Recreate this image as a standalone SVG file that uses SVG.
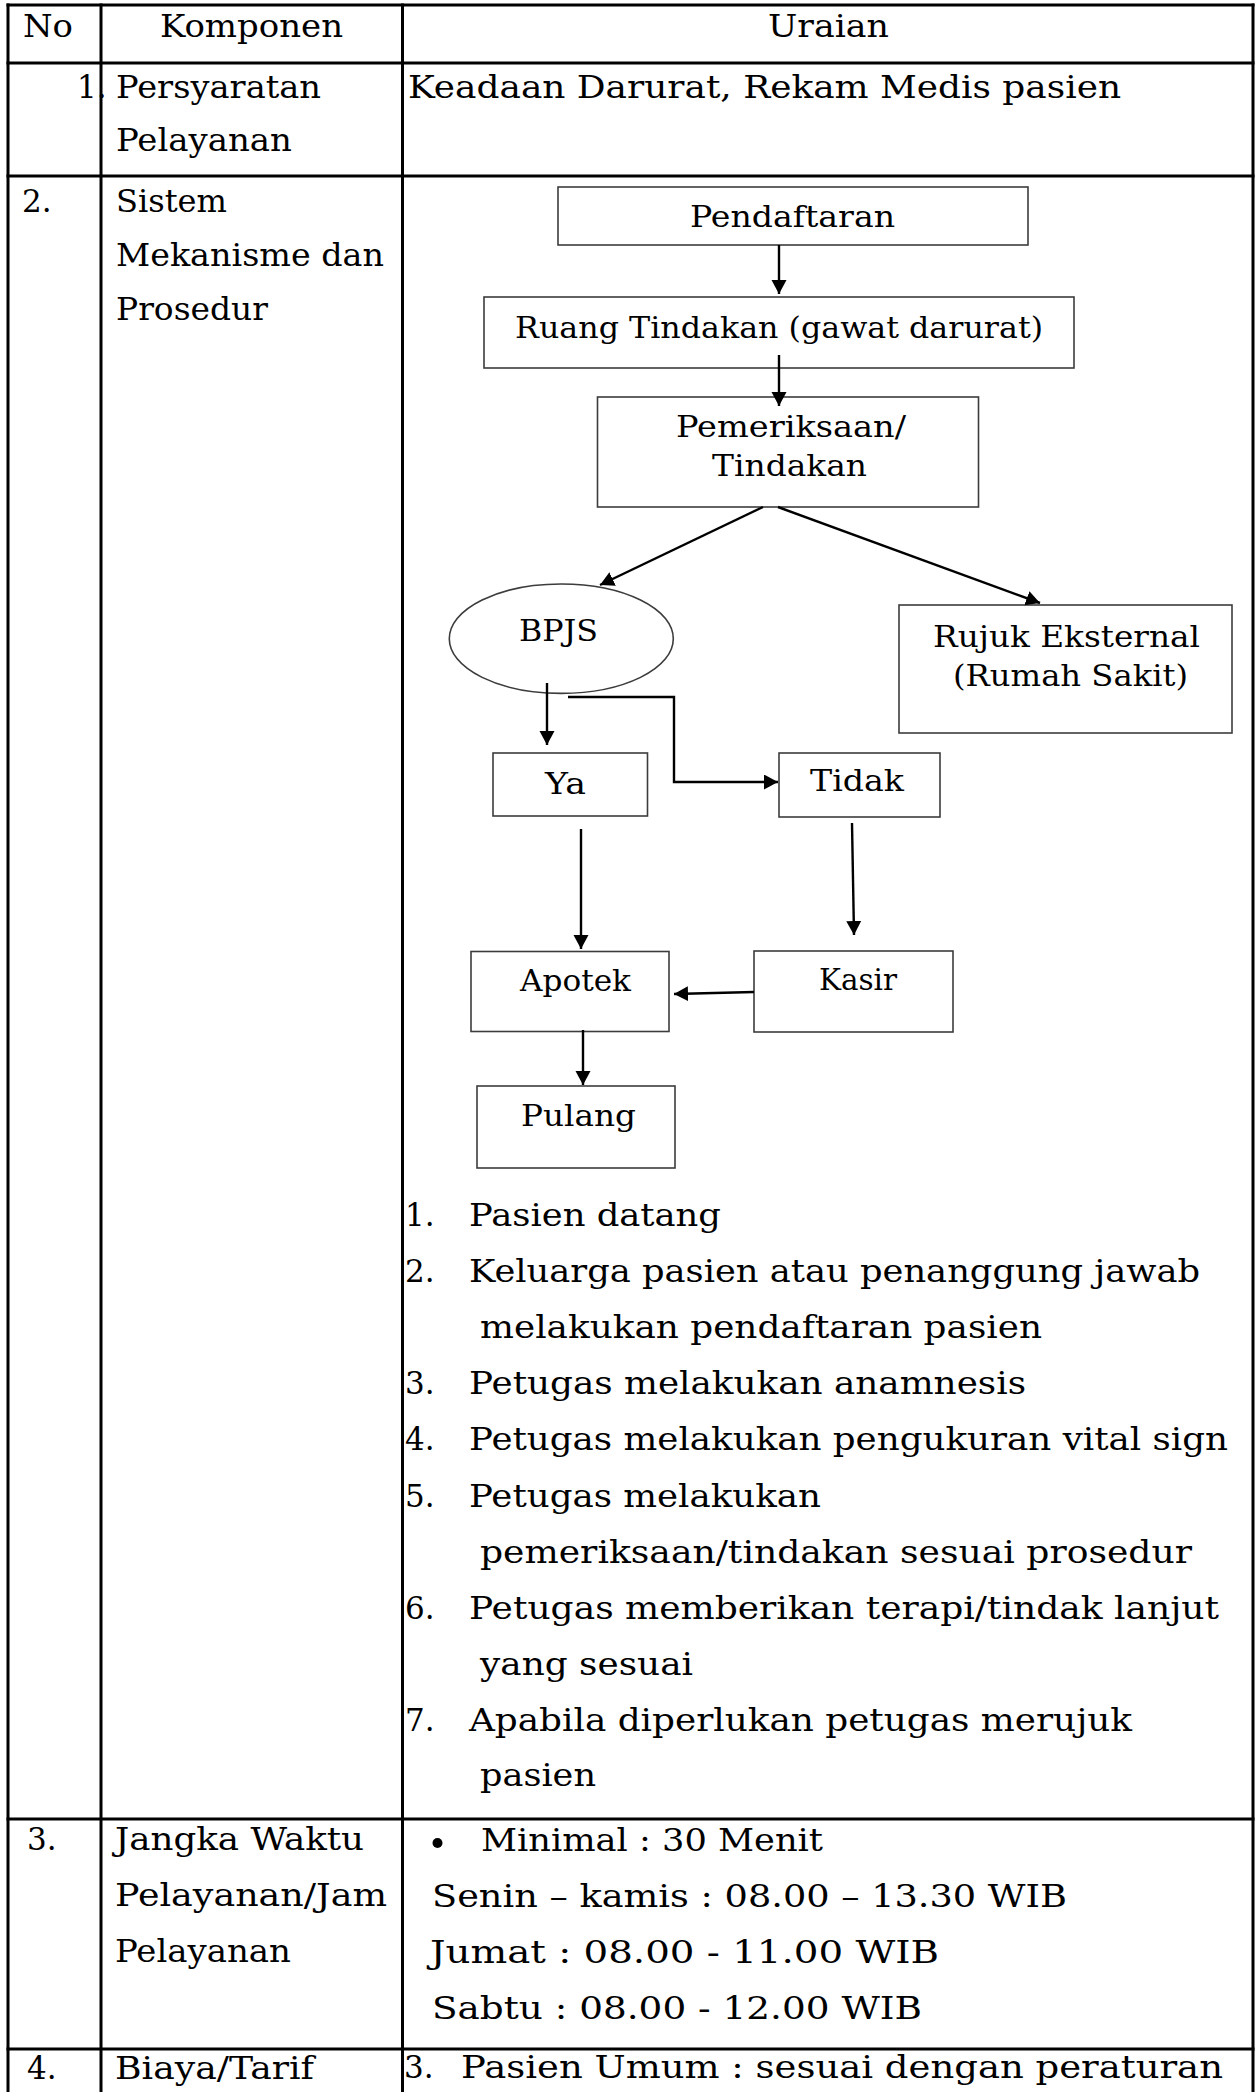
<svg xmlns="http://www.w3.org/2000/svg" width="1258" height="2092" viewBox="0 0 1258 2092">
<style>
.t{font-family:"DejaVu Serif","Liberation Serif",serif;font-size:31px;fill:#000}
.f{font-family:"DejaVu Serif","Liberation Serif",serif;font-size:30px;fill:#000}
.grid{stroke:#000;stroke-width:3;fill:none}
.box{fill:#fff;stroke:#3c3c3c;stroke-width:1.6}
.c{stroke:#000;stroke-width:2.4;fill:none}
</style>
<defs>
<marker id="ah" markerUnits="userSpaceOnUse" markerWidth="16" markerHeight="16" refX="14" refY="7.5" orient="auto">
<path d="M0,0 L14,7.5 L0,15 z" fill="#000"/>
</marker>
</defs>
<rect width="1258" height="2092" fill="#fff"/>

<g id="grid" class="grid">
<line x1="6.5" y1="5" x2="1254.5" y2="5"/>
<line x1="6.5" y1="63" x2="1254.5" y2="63"/>
<line x1="6.5" y1="176" x2="1254.5" y2="176"/>
<line x1="6.5" y1="1819" x2="1254.5" y2="1819"/>
<line x1="6.5" y1="2049" x2="1254.5" y2="2049"/>
<line x1="8" y1="3.5" x2="8" y2="2092"/>
<line x1="101" y1="3.5" x2="101" y2="2092"/>
<line x1="402.5" y1="3.5" x2="402.5" y2="2092"/>
<line x1="1253" y1="3.5" x2="1253" y2="2092"/>
</g>

<g id="header">
<text class="t" x="23" y="37" textLength="50" lengthAdjust="spacingAndGlyphs">No</text>
<text class="t" x="160" y="37" textLength="183" lengthAdjust="spacingAndGlyphs">Komponen</text>
<text class="t" x="768" y="37" textLength="121" lengthAdjust="spacingAndGlyphs">Uraian</text>
</g>

<g id="row1">
<text class="t" x="77" y="98">1.</text>
<text class="t" x="116" y="98" textLength="205" lengthAdjust="spacingAndGlyphs">Persyaratan</text>
<text class="t" x="116" y="151" textLength="176" lengthAdjust="spacingAndGlyphs">Pelayanan</text>
<text class="t" x="408" y="98" textLength="713" lengthAdjust="spacingAndGlyphs">Keadaan Darurat, Rekam Medis pasien</text>
</g>

<g id="row2">
<text class="t" x="22" y="212">2.</text>
<text class="t" x="116" y="212" textLength="111" lengthAdjust="spacingAndGlyphs">Sistem</text>
<text class="t" x="116" y="266" textLength="268" lengthAdjust="spacingAndGlyphs">Mekanisme dan</text>
<text class="t" x="116" y="320" textLength="152" lengthAdjust="spacingAndGlyphs">Prosedur</text>
</g>

<g id="node-pendaftaran">
<rect class="box" x="558" y="187" width="470" height="58"/>
<text class="f" x="690" y="227" textLength="205" lengthAdjust="spacingAndGlyphs">Pendaftaran</text>
</g>
<g id="node-ruang-tindakan">
<rect class="box" x="484" y="297" width="590" height="71"/>
<text class="f" x="515" y="338" textLength="528" lengthAdjust="spacingAndGlyphs">Ruang Tindakan (gawat darurat)</text>
</g>
<g id="node-pemeriksaan">
<rect class="box" x="597.5" y="397" width="381" height="110"/>
<text class="f" x="676" y="437" textLength="230" lengthAdjust="spacingAndGlyphs">Pemeriksaan/</text>
<text class="f" x="712" y="476" textLength="155" lengthAdjust="spacingAndGlyphs">Tindakan</text>
</g>
<g id="node-bpjs">
<ellipse class="box" cx="561.3" cy="638.7" rx="112" ry="54.7"/>
<text class="f" x="519" y="641" textLength="79" lengthAdjust="spacingAndGlyphs">BPJS</text>
</g>
<g id="node-rujuk">
<rect class="box" x="899" y="605" width="333" height="128"/>
<text class="f" x="933" y="647" textLength="267" lengthAdjust="spacingAndGlyphs">Rujuk Eksternal</text>
<text class="f" x="953" y="686" textLength="235" lengthAdjust="spacingAndGlyphs">(Rumah Sakit)</text>
</g>
<g id="node-ya">
<rect class="box" x="493" y="753" width="154.5" height="63" stroke="#666" stroke-width="2"/>
<text class="f" x="545" y="794" textLength="41" lengthAdjust="spacingAndGlyphs">Ya</text>
</g>
<g id="node-tidak">
<rect class="box" x="779" y="753" width="161" height="64"/>
<text class="f" x="810" y="791" textLength="94" lengthAdjust="spacingAndGlyphs">Tidak</text>
</g>
<g id="node-apotek">
<rect class="box" x="471" y="951.5" width="198" height="80" stroke="#666" stroke-width="2"/>
<text class="f" x="520" y="991" textLength="111" lengthAdjust="spacingAndGlyphs">Apotek</text>
</g>
<g id="node-kasir">
<rect class="box" x="754" y="951" width="199" height="81"/>
<text class="f" x="819" y="990" textLength="78" lengthAdjust="spacingAndGlyphs">Kasir</text>
</g>
<g id="node-pulang">
<rect class="box" x="477" y="1086" width="198" height="82"/>
<text class="f" x="521" y="1126" textLength="115" lengthAdjust="spacingAndGlyphs">Pulang</text>
</g>

<g id="connectors">
<path class="c" d="M779,245 V294" marker-end="url(#ah)"/>
<path class="c" d="M779,355 V406" marker-end="url(#ah)"/>
<path class="c" d="M763,507 L600,585" marker-end="url(#ah)"/>
<path class="c" d="M778,507 L1040,603" marker-end="url(#ah)"/>
<path class="c" d="M547,683 V745" marker-end="url(#ah)"/>
<path class="c" d="M568,697 H674 V782 H778" stroke-width="2.8" marker-end="url(#ah)"/>
<path class="c" d="M581,829 V949" marker-end="url(#ah)"/>
<path class="c" d="M852,823 L854,935" marker-end="url(#ah)"/>
<path class="c" d="M754,992 L674,994" marker-end="url(#ah)"/>
<path class="c" d="M583,1030 V1085" marker-end="url(#ah)"/>
</g>

<g id="row2-steps">
<text class="t" x="405" y="1226">1.</text>
<text class="t" x="469" y="1226" textLength="252" lengthAdjust="spacingAndGlyphs">Pasien datang</text>
<text class="t" x="405" y="1282">2.</text>
<text class="t" x="469" y="1282" textLength="731" lengthAdjust="spacingAndGlyphs">Keluarga pasien atau penanggung jawab</text>
<text class="t" x="480" y="1338" textLength="562" lengthAdjust="spacingAndGlyphs">melakukan pendaftaran pasien</text>
<text class="t" x="405" y="1394">3.</text>
<text class="t" x="469" y="1394" textLength="557" lengthAdjust="spacingAndGlyphs">Petugas melakukan anamnesis</text>
<text class="t" x="405" y="1450">4.</text>
<text class="t" x="469" y="1450" textLength="759" lengthAdjust="spacingAndGlyphs">Petugas melakukan pengukuran vital sign</text>
<text class="t" x="405" y="1507">5.</text>
<text class="t" x="469" y="1507" textLength="352" lengthAdjust="spacingAndGlyphs">Petugas melakukan</text>
<text class="t" x="480" y="1563" textLength="712" lengthAdjust="spacingAndGlyphs">pemeriksaan/tindakan sesuai prosedur</text>
<text class="t" x="405" y="1619">6.</text>
<text class="t" x="469" y="1619" textLength="750" lengthAdjust="spacingAndGlyphs">Petugas memberikan terapi/tindak lanjut</text>
<text class="t" x="480" y="1675" textLength="213" lengthAdjust="spacingAndGlyphs">yang sesuai</text>
<text class="t" x="405" y="1731">7.</text>
<text class="t" x="469" y="1731" textLength="663" lengthAdjust="spacingAndGlyphs">Apabila diperlukan petugas merujuk</text>
<text class="t" x="480" y="1786" textLength="116" lengthAdjust="spacingAndGlyphs">pasien</text>
</g>

<g id="row3">
<text class="t" x="27" y="1850">3.</text>
<text class="t" x="115" y="1850" textLength="249" lengthAdjust="spacingAndGlyphs">Jangka Waktu</text>
<text class="t" x="115" y="1906" textLength="272" lengthAdjust="spacingAndGlyphs">Pelayanan/Jam</text>
<text class="t" x="115" y="1962" textLength="176" lengthAdjust="spacingAndGlyphs">Pelayanan</text>
<circle cx="437.5" cy="1843" r="5" fill="#000"/>
<text class="t" x="481" y="1851" textLength="342" lengthAdjust="spacingAndGlyphs">Minimal : 30 Menit</text>
<text class="t" x="432" y="1907" textLength="635" lengthAdjust="spacingAndGlyphs">Senin – kamis : 08.00 – 13.30 WIB</text>
<text class="t" x="430" y="1963" textLength="509" lengthAdjust="spacingAndGlyphs">Jumat : 08.00 - 11.00 WIB</text>
<text class="t" x="432" y="2019" textLength="490" lengthAdjust="spacingAndGlyphs">Sabtu : 08.00 - 12.00 WIB</text>
</g>

<g id="row4">
<text class="t" x="27" y="2079">4.</text>
<text class="t" x="115" y="2079" textLength="199" lengthAdjust="spacingAndGlyphs">Biaya/Tarif</text>
<text class="t" x="404" y="2078">3.</text>
<text class="t" x="461" y="2078" textLength="762" lengthAdjust="spacingAndGlyphs">Pasien Umum : sesuai dengan peraturan</text>
</g>
</svg>
